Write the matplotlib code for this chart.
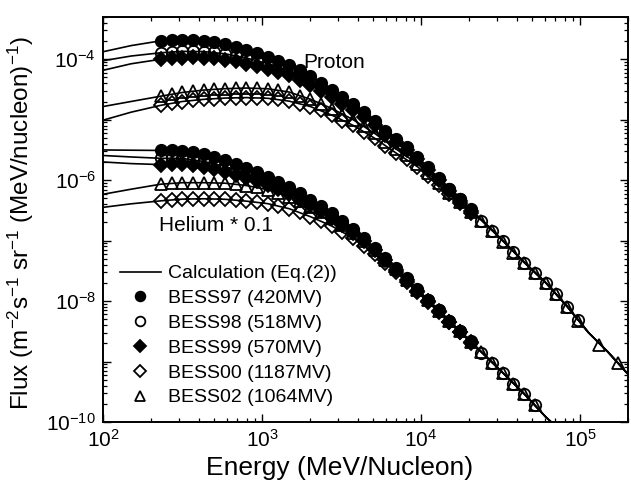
import math
import matplotlib
matplotlib.use('Agg')
import matplotlib.pyplot as plt
from matplotlib.lines import Line2D
from matplotlib.ticker import FixedLocator, LogLocator, FuncFormatter, NullFormatter

plt.rcParams['font.family'] = 'Liberation Sans'
plt.rcParams['mathtext.fontset'] = 'custom'
plt.rcParams['mathtext.rm'] = 'Liberation Sans'
plt.rcParams['mathtext.it'] = 'Liberation Sans:italic'

# ---------------------------------------------------------------------------
# DATA
# ---------------------------------------------------------------------------

# kinetic energy bins (MeV/nucleon), shared by all BESS data sets
energy = [231, 270, 315, 367, 429, 501, 585, 682, 796, 930,
          1085, 1267, 1479, 1727, 2016, 2353, 2747, 3206, 3743, 4369,
          5100, 5954, 6950, 8113, 9471, 11055, 12905, 15066, 17585, 20530,
          23960, 27975, 32660, 38120, 44500, 51950, 60650, 70790, 82640, 96470]
energy_p02_extra = [132000, 173000]

# proton flux
p97 = [2.02e-4, 2.06e-4, 2.07e-4, 2.06e-4, 2.01e-4, 1.92e-4, 1.78e-4, 1.62e-4, 1.44e-4, 1.26e-4,
       1.10e-4, 9.44e-5, 8.09e-5, 6.56e-5, 5.27e-5, 4.06e-5, 3.10e-5, 2.33e-5, 1.81e-5, 1.33e-5,
       9.62e-6, 6.56e-6, 4.83e-6, 3.55e-6, 2.46e-6, 1.65e-6, 1.08e-6, 7.27e-7, 4.92e-7, 3.29e-7]
p98 = [1.28e-4, 1.32e-4, 1.35e-4, 1.35e-4, 1.34e-4, 1.30e-4, 1.23e-4, 1.15e-4, 1.05e-4, 9.44e-5,
       8.48e-5, 7.47e-5, 6.56e-5, 5.43e-5, 4.47e-5, 3.52e-5, 2.74e-5, 2.09e-5, 1.65e-5, 1.24e-5,
       9.02e-6, 6.19e-6, 4.59e-6, 3.40e-6, 2.37e-6, 1.59e-6, 1.05e-6, 7.08e-7, 4.80e-7, 3.22e-7,
       2.15e-7, 1.47e-7, 9.81e-8, 6.43e-8, 4.30e-8, 2.93e-8, 2.00e-8, 1.33e-8, 8.09e-9, 4.83e-9]
p99 = [1.00e-4, 1.035e-4, 1.06e-4, 1.07e-4, 1.06e-4, 1.03e-4, 9.81e-5, 9.19e-5, 8.45e-5, 7.64e-5,
       6.95e-5, 6.17e-5, 5.47e-5, 4.57e-5, 3.79e-5, 3.01e-5, 2.37e-5, 1.83e-5, 1.46e-5, 1.10e-5,
       8.09e-6, 5.62e-6, 4.20e-6, 3.14e-6, 2.21e-6, 1.50e-6, 9.92e-7, 6.73e-7, 4.59e-7, 3.09e-7]
p00 = [1.73e-5, 1.88e-5, 2.00e-5, 2.10e-5, 2.17e-5, 2.24e-5, 2.28e-5, 2.31e-5, 2.32e-5, 2.31e-5,
       2.26e-5, 2.17e-5, 2.03e-5, 1.85e-5, 1.65e-5, 1.42e-5, 1.19e-5, 9.62e-6, 8.04e-6, 6.38e-6,
       4.95e-6, 3.62e-6, 2.82e-6, 2.24e-6, 1.68e-6, 1.19e-6, 8.25e-7, 5.89e-7, 4.17e-7, 2.87e-7]
p02 = [2.45e-5, 2.66e-5, 2.82e-5, 2.96e-5, 3.09e-5, 3.19e-5, 3.26e-5, 3.31e-5, 3.34e-5, 3.33e-5,
       3.25e-5, 3.10e-5, 2.87e-5, 2.46e-5, 2.18e-5, 1.85e-5, 1.53e-5, 1.21e-5, 1.00e-5, 7.79e-6,
       5.96e-6, 4.30e-6, 3.29e-6, 2.56e-6, 1.88e-6, 1.31e-6, 8.91e-7, 6.24e-7, 4.38e-7, 2.99e-7,
       2.11e-7, 1.44e-7, 9.62e-8, 6.31e-8, 4.22e-8, 2.87e-8, 1.96e-8, 1.31e-8, 7.94e-9, 4.73e-9,
       1.85e-9, 9.62e-10]

# helium flux (x 0.1)
h97 = [3.10e-6, 3.10e-6, 3.04e-6, 2.87e-6, 2.66e-6, 2.42e-6, 2.13e-6, 1.85e-6, 1.58e-6, 1.36e-6,
       1.14e-6, 9.44e-7, 7.64e-7, 6.07e-7, 4.73e-7, 3.69e-7, 2.82e-7, 2.11e-7, 1.55e-7, 1.10e-7,
       7.64e-8, 5.21e-8, 3.55e-8, 2.37e-8, 1.58e-8, 1.06e-8, 7.13e-9, 4.77e-9, 3.20e-9, 2.15e-9]
h98 = [2.30e-6, 2.32e-6, 2.29e-6, 2.18e-6, 2.04e-6, 1.88e-6, 1.69e-6, 1.48e-6, 1.29e-6, 1.13e-6,
       9.62e-7, 8.07e-7, 6.63e-7, 5.35e-7, 4.23e-7, 3.35e-7, 2.59e-7, 1.97e-7, 1.46e-7, 1.04e-7,
       7.27e-8, 4.99e-8, 3.41e-8, 2.29e-8, 1.54e-8, 1.03e-8, 7.00e-9, 4.68e-9, 3.14e-9, 2.11e-9,
       1.41e-9, 9.51e-10, 6.38e-10, 4.27e-10, 2.87e-10, 1.93e-10]
h99 = [1.81e-6, 1.83e-6, 1.83e-6, 1.75e-6, 1.65e-6, 1.53e-6, 1.39e-6, 1.24e-6, 1.09e-6, 9.59e-7,
       8.29e-7, 7.03e-7, 5.84e-7, 4.77e-7, 3.82e-7, 3.04e-7, 2.38e-7, 1.82e-7, 1.36e-7, 9.81e-8,
       6.89e-8, 4.75e-8, 3.27e-8, 2.20e-8, 1.48e-8, 1.00e-8, 6.79e-9, 4.55e-9, 3.07e-9, 2.07e-9]
h00 = [4.55e-7, 4.73e-7, 4.86e-7, 4.92e-7, 4.92e-7, 4.92e-7, 4.83e-7, 4.68e-7, 4.50e-7, 4.33e-7,
       4.09e-7, 3.76e-7, 3.38e-7, 2.93e-7, 2.49e-7, 2.11e-7, 1.74e-7, 1.40e-7, 1.10e-7, 8.22e-8,
       5.98e-8, 4.25e-8, 3.00e-8, 2.07e-8, 1.41e-8, 9.62e-9, 6.58e-9, 4.47e-9, 3.03e-9, 2.06e-9]
h02 = [8.58e-7, 8.91e-7, 9.08e-7, 9.08e-7, 9.08e-7, 9.08e-7, 8.91e-7, 8.58e-7, 8.16e-7, 7.64e-7,
       6.95e-7, 6.19e-7, 5.31e-7, 4.47e-7, 3.62e-7, 2.93e-7, 2.33e-7, 1.79e-7, 1.35e-7, 9.81e-8,
       6.95e-8, 4.83e-8, 3.34e-8, 2.26e-8, 1.52e-8, 1.03e-8, 6.97e-9, 4.68e-9, 3.15e-9, 2.12e-9,
       1.42e-9, 9.59e-10, 6.43e-10, 4.30e-10, 2.89e-10, 1.94e-10]

# calculation (Eq.(2)) curves
calc_energy_p = [100, 150, 231, 315, 429, 585, 796, 1085, 1479, 2016, 2747, 3743, 5100, 6950,
                 9471, 12905, 17585, 23960, 32660, 44500, 60650, 82640, 112600, 150000, 200000]
calc_p_tail = [2.20e-7, 1.00e-7, 4.38e-8, 2.03e-8, 8.25e-9, 3.04e-9, 1.43e-9, 6.19e-10]
calc_p97 = [1.33e-4, 1.68e-4, 2.02e-4, 2.07e-4, 2.01e-4, 1.78e-4, 1.44e-4, 1.10e-4, 8.09e-5,
            5.27e-5, 3.10e-5, 1.81e-5, 9.62e-6, 4.83e-6, 2.46e-6, 1.08e-6, 4.92e-7]
calc_p98 = [9.44e-5, 1.13e-4, 1.28e-4, 1.35e-4, 1.34e-4, 1.23e-4, 1.05e-4, 8.48e-5, 6.56e-5,
            4.47e-5, 2.74e-5, 1.65e-5, 9.02e-6, 4.59e-6, 2.37e-6, 1.05e-6, 4.80e-7]
calc_p99 = [6.56e-5, 8.41e-5, 1.00e-4, 1.06e-4, 1.06e-4, 9.81e-5, 8.45e-5, 6.95e-5, 5.47e-5,
            3.79e-5, 2.37e-5, 1.46e-5, 8.09e-6, 4.20e-6, 2.21e-6, 9.92e-7, 4.59e-7]
calc_p00 = [9.81e-6, 1.33e-5, 1.73e-5, 2.00e-5, 2.17e-5, 2.28e-5, 2.32e-5, 2.26e-5, 2.03e-5,
            1.65e-5, 1.19e-5, 8.04e-6, 4.95e-6, 2.82e-6, 1.68e-6, 8.25e-7, 4.17e-7]
calc_p02 = [1.65e-5, 2.00e-5, 2.45e-5, 2.82e-5, 3.09e-5, 3.26e-5, 3.34e-5, 3.25e-5, 2.87e-5,
            2.18e-5, 1.53e-5, 1.00e-5, 5.96e-6, 3.29e-6, 1.88e-6, 8.91e-7, 4.38e-7]

calc_energy_h = [100, 150, 231, 315, 429, 585, 796, 1085, 1479, 2016, 2747, 3743, 5100, 6950,
                 9471, 12905, 17585, 23960, 32660, 44500, 60650, 70000]
calc_h_tail = [1.44e-9, 6.51e-10, 2.93e-10, 1.22e-10, 8.6e-11]
calc_h97 = [3.16e-6, 3.13e-6, 3.10e-6, 3.04e-6, 2.66e-6, 2.13e-6, 1.58e-6, 1.14e-6, 7.64e-7,
            4.73e-7, 2.82e-7, 1.55e-7, 7.64e-8, 3.55e-8, 1.58e-8, 7.13e-9, 3.20e-9]
calc_h98 = [2.56e-6, 2.42e-6, 2.30e-6, 2.29e-6, 2.04e-6, 1.69e-6, 1.29e-6, 9.62e-7, 6.63e-7,
            4.23e-7, 2.59e-7, 1.46e-7, 7.27e-8, 3.41e-8, 1.54e-8, 7.00e-9, 3.14e-9]
calc_h99 = [2.00e-6, 1.88e-6, 1.81e-6, 1.83e-6, 1.65e-6, 1.39e-6, 1.09e-6, 8.29e-7, 5.84e-7,
            3.82e-7, 2.38e-7, 1.36e-7, 6.89e-8, 3.27e-8, 1.48e-8, 6.79e-9, 3.07e-9]
calc_h00 = [3.55e-7, 4.06e-7, 4.55e-7, 4.86e-7, 4.92e-7, 4.83e-7, 4.50e-7, 4.09e-7, 3.38e-7,
            2.49e-7, 1.74e-7, 1.10e-7, 5.98e-8, 3.00e-8, 1.41e-8, 6.58e-9, 3.03e-9]
calc_h02 = [5.84e-7, 7.08e-7, 8.58e-7, 9.08e-7, 9.08e-7, 8.91e-7, 8.16e-7, 6.95e-7, 5.31e-7,
            3.62e-7, 2.33e-7, 1.35e-7, 6.95e-8, 3.34e-8, 1.52e-8, 6.97e-9, 3.15e-9]

labels = ['BESS97 (420MV)', 'BESS98 (518MV)', 'BESS99 (570MV)',
          'BESS00 (1187MV)', 'BESS02 (1064MV)']

# ---------------------------------------------------------------------------

styles = {
    'BESS97 (420MV)': dict(marker='o', mfc='black', ms=8.2),
    'BESS98 (518MV)': dict(marker='o', mfc='none', ms=8.2),
    'BESS99 (570MV)': dict(marker='D', mfc='black', ms=6.8),
    'BESS00 (1187MV)': dict(marker='D', mfc='none', ms=6.8),
    'BESS02 (1064MV)': dict(marker='^', mfc='none', ms=8.6),
}

fig = plt.figure(figsize=(6.31, 4.84), dpi=100)
ax = fig.add_axes([0.1632, 0.1281, 0.8320, 0.8368])

# calculation curves
for c in [calc_p97, calc_p98, calc_p99, calc_p00, calc_p02]:
    ax.plot(calc_energy_p, c + calc_p_tail, color='black', lw=1.2, zorder=2)
for c in [calc_h97, calc_h98, calc_h99, calc_h00, calc_h02]:
    ax.plot(calc_energy_h, c + calc_h_tail, color='black', lw=1.2, zorder=2)

# data points
series = [
    (labels[0], energy[:len(p97)], p97, energy[:len(h97)], h97),
    (labels[1], energy[:len(p98)], p98, energy[:len(h98)], h98),
    (labels[2], energy[:len(p99)], p99, energy[:len(h99)], h99),
    (labels[3], energy[:len(p00)], p00, energy[:len(h00)], h00),
    (labels[4], energy + energy_p02_extra, p02, energy[:len(h02)], h02),
]
for lab, ep, fp, eh, fh in series:
    st = styles[lab]
    for e, f in [(ep, fp), (eh, fh)]:
        ax.plot(e, f, ls='none', marker=st['marker'], ms=st['ms'],
                mfc=st['mfc'], mec='black', mew=1.3, zorder=3)

ax.set_xscale('log')
ax.set_yscale('log')
ax.set_xlim(100, 2e5)
ax.set_ylim(1e-10, 5e-4)


def pow10(v, p):
    return r'$10^{%d}$' % round(math.log10(v))


def pow10_even(v, p):
    n = round(math.log10(v))
    return r'$10^{%d}$' % n if n % 2 == 0 else ''


# ticks
ax.xaxis.set_major_locator(FixedLocator([1e2, 1e3, 1e4, 1e5]))
ax.xaxis.set_minor_locator(LogLocator(base=10, subs=range(2, 10), numticks=20))
ax.xaxis.set_major_formatter(FuncFormatter(pow10))
ax.xaxis.set_minor_formatter(NullFormatter())

ax.yaxis.set_major_locator(FixedLocator([1e-10, 1e-9, 1e-8, 1e-7, 1e-6, 1e-5, 1e-4]))
ax.yaxis.set_minor_locator(LogLocator(base=10, subs=range(2, 10), numticks=20))
ax.yaxis.set_major_formatter(FuncFormatter(pow10_even))
ax.yaxis.set_minor_formatter(NullFormatter())

ax.tick_params(which='both', direction='in', top=True, right=True, labelsize=15)
ax.tick_params(which='major', length=6, width=1.0, pad=5)
ax.tick_params(which='minor', length=3, width=0.9)
for s in ax.spines.values():
    s.set_linewidth(1.4)

ax.set_xlabel('Energy (MeV/Nucleon)', fontsize=19)
ax.xaxis.set_label_coords(0.451, -0.085)
ax.set_ylabel(r'Flux (m$^{-2}$s$^{-1}$ sr$^{-1}$ (MeV/nucleon)$^{-1}$)', fontsize=17.5)
ax.yaxis.set_label_coords(-0.128, 0.49)

ax.text(1820, 8.9e-5, 'Proton', fontsize=15, ha='left', va='center')
ax.text(225, 1.78e-7, 'Helium * 0.1', fontsize=15, ha='left', va='center')

# legend
handles = [Line2D([], [], color='black', lw=1.2)]
for lab in labels:
    st = styles[lab]
    handles.append(Line2D([], [], ls='none', marker=st['marker'], ms=st['ms'] * 0.85,
                          mfc=st['mfc'], mec='black', mew=1.3))
ax.legend(handles, ['Calculation (Eq.(2))'] + labels, loc='upper left',
          bbox_to_anchor=(0.032, 0.388), frameon=False, fontsize=14,
          handlelength=2.1, handletextpad=0.4, labelspacing=0.37,
          borderpad=0, borderaxespad=0)

plt.savefig('out.png', dpi=100)
